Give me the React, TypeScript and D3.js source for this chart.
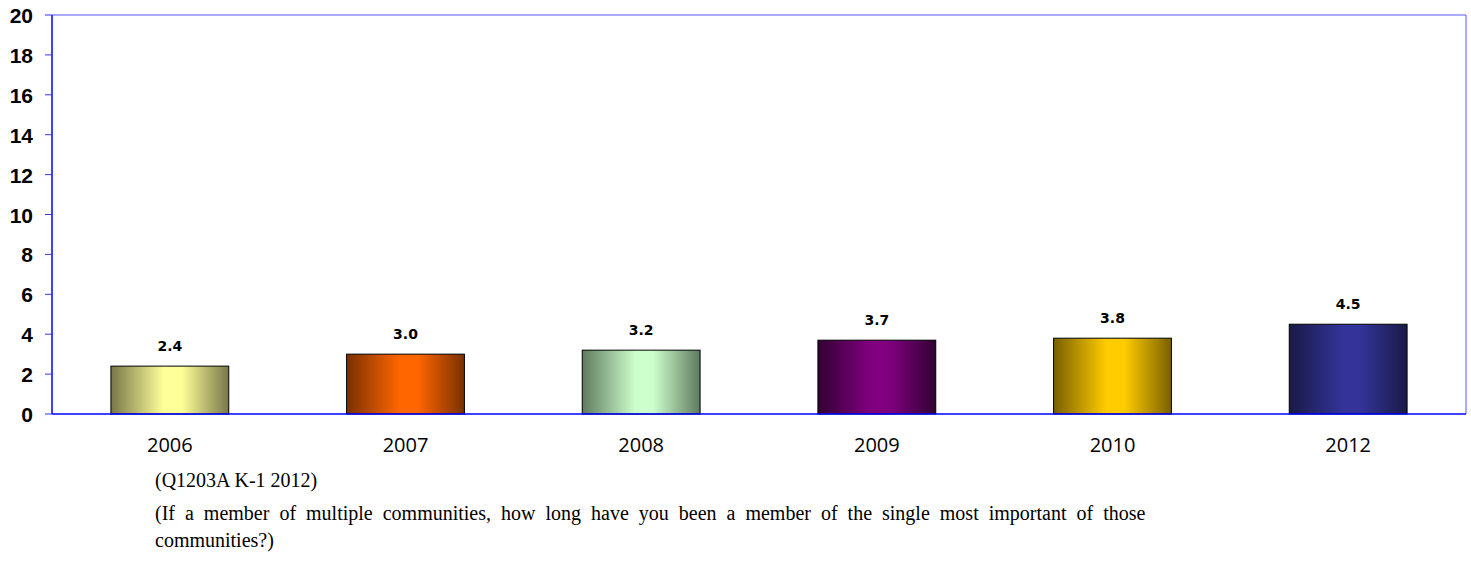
import React from "react";
import * as d3 from "d3";

const years = ["2006", "2007", "2008", "2009", "2010", "2012"];
const values = [2.4, 3.0, 3.2, 3.7, 3.8, 4.5];
const lightColors = ["#ffff99", "#ff6600", "#ccffcc", "#800080", "#ffcc00", "#333399"];
const darkColors = ["#77774a", "#7a3000", "#5f7a5f", "#330033", "#7a6000", "#1a1a48"];
const yTicks = [0, 2, 4, 6, 8, 10, 12, 14, 16, 18, 20];
const noteLines = [
  "(Q1203A K-1 2012)",
  "(If a member of multiple communities, how long have you been a member of the single most important of those",
  "communities?)",
];

const W = 1471;
const H = 571;
const M = { left: 52, right: 1466, top: 15, bottom: 414 };

export default function App() {
  const x = d3.scaleBand<string>().domain(years).range([M.left, M.right]).paddingInner(0.5).paddingOuter(0.25);
  const y = d3.scaleLinear().domain([0, 20]).range([M.bottom, M.top]);
  const bw = x.bandwidth();
  return (
    <svg width={W} height={H} style={{ position: "absolute", left: 0, top: 0, background: "#fff" }}>
      <defs>
        {years.map((yr, i) => (
          <linearGradient key={yr} id={`g${i}`} x1="0" x2="1" y1="0" y2="0">
            <stop offset="0" stopColor={darkColors[i]} />
            <stop offset="0.45" stopColor={lightColors[i]} />
            <stop offset="0.6" stopColor={lightColors[i]} />
            <stop offset="1" stopColor={darkColors[i]} />
          </linearGradient>
        ))}
      </defs>
      <line x1={M.left} x2={M.right} y1={M.top} y2={M.top} stroke="#5555ff" strokeWidth={1} />
      <line x1={M.right} x2={M.right} y1={M.top} y2={M.bottom} stroke="#5555ff" strokeWidth={1} />
      {years.map((yr, i) => (
        <g key={yr}>
          <rect
            x={x(yr)!}
            y={y(values[i])}
            width={bw}
            height={y(0) - y(values[i])}
            fill={`url(#g${i})`}
            stroke="#000"
            strokeWidth={1}
          />
          <text
            x={x(yr)! + bw / 2}
            y={y(values[i]) - 15}
            textAnchor="middle"
            fontFamily="DejaVu Sans, sans-serif"
            fontWeight="bold"
            fontSize={14}
            fill="#000"
          >
            {values[i].toFixed(1)}
          </text>
          <text
            x={x(yr)! + bw / 2}
            y={452}
            textAnchor="middle"
            fontFamily="Open Sans, sans-serif"
            fontSize={20}
            fill="#000"
          >
            {yr}
          </text>
        </g>
      ))}
      <line x1={M.left} x2={M.left} y1={M.top} y2={M.bottom} stroke="#0000ff" strokeWidth={1.5} />
      <line x1={M.left} x2={M.right} y1={M.bottom} y2={M.bottom} stroke="#0000ff" strokeWidth={1.5} />
      {yTicks.map((t) => (
        <g key={t}>
          <line x1={M.left - 7} x2={M.left} y1={y(t)} y2={y(t)} stroke="#3333ff" strokeWidth={1} />
          <text
            x={33}
            y={y(t) + 8}
            textAnchor="end"
            fontFamily="Liberation Sans, Arial, sans-serif"
            fontWeight="bold"
            fontSize={21}
            fill="#000"
          >
            {t}
          </text>
        </g>
      ))}
      {noteLines.map((l, i) => (
        <text
          key={i}
          x={155}
          y={[487, 520, 547][i]}
          fontFamily="Liberation Serif, serif"
          fontSize={20}
          wordSpacing={i === 1 ? 5 : 0}
          fill="#000"
        >
          {l}
        </text>
      ))}
    </svg>
  );
}
